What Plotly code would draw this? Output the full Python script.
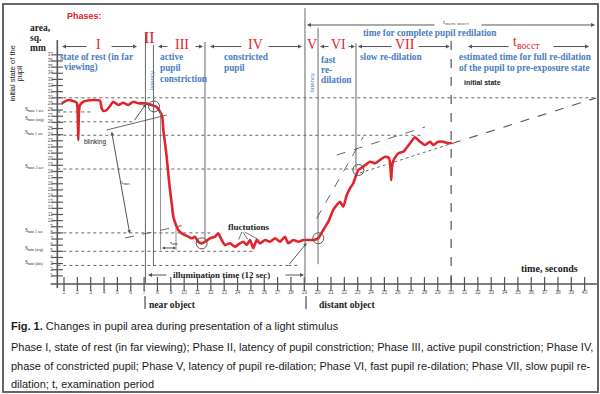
import plotly.graph_objects as go

# ---------------- data ----------------
time_s = [0.83, 1.32, 1.82, 1.97, 2.03, 2.07, 2.11, 2.18, 2.45, 2.80,
          3.19, 3.70, 3.82, 3.94, 4.20, 4.45, 4.69, 5.07, 5.44, 5.82,
          6.19, 6.57, 7.07, 7.57, 7.94, 8.19, 8.36, 8.44, 8.57, 8.69,
          8.81, 8.94, 9.07, 9.19, 9.39, 9.56, 9.82, 10.06, 10.31, 10.57,
          10.81, 11.06, 11.31, 11.56, 11.94, 12.31, 12.56, 12.81, 13.06, 13.43,
          13.81, 14.18, 14.43, 14.69, 14.93, 15.18, 15.43, 15.68, 16.06, 16.43,
          16.81, 17.18, 17.55, 17.80, 18.18, 18.55, 18.93, 19.30, 19.67, 20.05,
          20.42, 20.80, 21.17, 21.43, 21.67, 21.92, 22.18, 22.42, 22.67, 22.93,
          23.05, 23.42, 23.92, 24.30, 24.67, 25.05, 25.34, 25.45, 25.51, 25.57,
          25.70, 26.04, 26.42, 26.54, 26.92, 27.29, 27.67, 28.04, 28.42, 28.66,
          29.04, 29.41, 29.79, 30.05]
area_mm2 = [29.10, 29.64, 29.37, 29.15, 27.0, 23.1, 27.0, 28.7, 29.37, 29.56,
            29.64, 29.53, 28.29, 27.85, 28.01, 28.67, 29.37, 28.83, 29.20, 28.83,
            29.37, 29.10, 29.10, 28.83, 28.50, 27.74, 26.92, 24.76, 22.59, 20.41,
            17.70, 14.98, 12.82, 10.64, 9.28, 8.47, 7.93, 7.65, 7.38, 7.12,
            7.38, 6.56, 6.30, 6.56, 7.12, 7.38, 7.93, 6.84, 6.03, 6.30,
            5.75, 6.30, 6.56, 6.03, 6.84, 5.49, 6.84, 6.30, 6.84, 6.56,
            7.12, 6.56, 7.38, 6.30, 6.84, 6.56, 6.84, 6.84, 6.84, 7.12,
            8.47, 9.82, 11.73, 12.54, 13.08, 12.26, 14.17, 15.26, 16.08, 17.70,
            18.24, 18.78, 19.59, 19.33, 19.87, 20.41, 20.20, 18.8, 16.6, 18.8,
            19.9, 20.96, 21.22, 21.50, 22.59, 23.57, 22.85, 22.31, 22.85, 22.31,
            22.85, 22.85, 22.59, 22.69]

x_ticks = list(range(1, 41))
y_ticks = list(range(1, 38))

# marked points (open circles) on the curve
circle_t = [7.74, 11.31, 20.05, 23.05]
circle_area = [28.6, 6.30, 7.12, 18.24]

# reference levels (area) with labels and the time where each dotted line ends
level_area = [30.0, 27.7, 26.1, 23.9, 18.4, 8.0, 5.0, 2.7]
level_end_t = [41.0, 3.0, 6.2, 27.8, 23.0, 12.2, 15.2, 17.8]
level_label = ["", "S<sub>max 1 sec</sub>", "S<sub>max (avg)</sub>", "S<sub>min 1 sec</sub>",
               "S<sub>max 2 sec</sub>", "S<sub>min 1 sec</sub>", "S<sub>min (avg)</sub>",
               "S<sub>min (abs)</sub>"]

# phase boundaries (time) and the vertical extent of each boundary line
bound_t = [7.10, 7.70, 11.56, 19.05, 20.03, 22.87]
bound_top = [40.55, 38.6, 39.1, 44.6, 41.4, 38.9]
bound_bottom = [-0.33, 2.6, 6.84, -0.33, 2.9, 18.2]
end_t = 30.0

phase_names = ["I", "II", "III", "IV", "V", "VI", "VII"]
phase_center_t = [3.55, 7.44, 9.84, 15.31, 19.55, 21.56, 26.54]

# ---------------- style ----------------
SERIF = "Liberation Serif"
SANS = "Liberation Sans"
RED = "#e3232b"
BLUE = "#4a7dbf"
GRAY = "#555555"
DARK = "#222222"

fig = go.Figure()

# red pupil-area curve
fig.add_trace(go.Scatter(x=time_s, y=area_mm2, mode="lines",
                         line=dict(color=RED, width=2.6, shape="spline", smoothing=0.5),
                         hoverinfo="skip", showlegend=False))

# circles
fig.add_trace(go.Scatter(x=circle_t, y=circle_area, mode="markers",
                         marker=dict(symbol="circle-open", size=11, color=GRAY, line=dict(width=1)),
                         hoverinfo="skip", showlegend=False))

# axis ticks (crossing) and tick labels
X_AXIS_Y = -0.33
Y_AXIS_T = 0.5
fig.add_trace(go.Scatter(x=x_ticks, y=[X_AXIS_Y] * len(x_ticks), mode="markers",
                         marker=dict(symbol="line-ns", size=10, line=dict(width=1.2, color=GRAY)),
                         hoverinfo="skip", showlegend=False))
fig.add_trace(go.Scatter(x=x_ticks, y=[-1.75] * len(x_ticks), mode="text",
                         text=[str(v) for v in x_ticks],
                         textfont=dict(size=5, color=GRAY, family=SANS),
                         hoverinfo="skip", showlegend=False))
fig.add_trace(go.Scatter(x=[Y_AXIS_T] * len(y_ticks), y=y_ticks, mode="markers",
                         marker=dict(symbol="line-ew", size=8, line=dict(width=1.2, color=GRAY)),
                         hoverinfo="skip", showlegend=False))
fig.add_trace(go.Scatter(x=[0.15] * len(y_ticks), y=y_ticks, mode="text",
                         text=[str(v) for v in y_ticks], textposition="middle left",
                         textfont=dict(size=4.5, color=GRAY, family=SANS),
                         hoverinfo="skip", showlegend=False))

shapes = []
ann = []


def seg(x0, y0, x1, y1, color=GRAY, width=1, dash="solid"):
    shapes.append(dict(type="line", xref="x", yref="y", x0=x0, y0=y0, x1=x1, y1=y1,
                       line=dict(color=color, width=width, dash=dash)))


def txt(x, y, s, size, color=DARK, bold=False, family=SERIF, anchor="left", angle=0):
    if bold:
        s = "<b>" + s + "</b>"
    ann.append(dict(x=x, y=y, xref="x", yref="y", text=s, showarrow=False,
                    font=dict(size=size, color=color, family=family),
                    xanchor=anchor, yanchor="middle", textangle=angle))


def arrow(xh, yh, xt, yt, both=False, color=GRAY, width=1, size=0.8):
    d = dict(x=xh, y=yh, ax=xt, ay=yt, xref="x", yref="y", axref="x", ayref="y",
             showarrow=True, arrowhead=2, arrowsize=size, arrowwidth=width,
             arrowcolor=color, text="", standoff=0, startstandoff=0)
    if both:
        d.update(arrowside="end+start", startarrowhead=2, startarrowsize=size)
    ann.append(d)


# axes lines
seg(0.0, X_AXIS_Y, 41.0, X_AXIS_Y, GRAY, 1.6)
seg(Y_AXIS_T, -1.0, Y_AXIS_T, 39.4, GRAY, 1.6)

# horizontal reference levels
for a, te, lab in zip(level_area, level_end_t, level_label):
    seg(Y_AXIS_T, a, te, a, "#666666", 1, "dot")
    if lab:
        txt(-2.05, a + 0.45, lab, 5.5, DARK, family=SERIF)

# phase boundaries
for t, top, bot in zip(bound_t, bound_top, bound_bottom):
    seg(t, bot, t, top, "#666666", 1)
seg(end_t, -0.33, end_t, 39.4, "#555555", 1.2, "dash")

# t_min bracket
seg(8.23, 28.0, 8.23, 5.2, "#777777", 0.8)
seg(9.39, 9.1, 9.39, 5.2, "#777777", 0.8)
arrow(9.39, 5.54, 8.23, 5.54, both=True, size=0.6)
txt(8.8, 6.4, "τ<sub>min</sub>", 5)

# tangents / guide lines
seg(4.20, 24.76, 8.69, 27.19, "#555555", 0.9)
seg(5.57, 7.17, 9.82, 9.17, "#555555", 0.9, "dash")
arrow(4.57, 24.48, 5.94, 7.65, both=True, size=0.7)
txt(5.05, 16.1, "A<sub>max</sub>", 5)
arrow(7.14, 29.0, 6.2, 26.1, size=0.7)
seg(19.93, 10.37, 23.42, 23.66, "#555555", 0.9, "dash")
seg(21.43, 20.68, 28.04, 25.24, "#555555", 0.9, "dash")
seg(23.17, 17.75, 30.06, 22.56, "#555555", 0.9, "dot")
seg(30.06, 22.56, 40.85, 29.97, "#555555", 1.1, "dash")
seg(17.8, 2.7, 18.7, 2.7, "#666666", 1, "dot")
arrow(19.18, 6.35, 17.8, 2.7, size=0.7)

# fluctuation pointers
seg(14.31, 8.14, 14.09, 6.9, "#555555", 0.8)
seg(14.39, 8.14, 14.76, 7.0, "#555555", 0.8)
seg(14.54, 8.14, 15.58, 6.9, "#555555", 0.8)

# near / distant object markers
seg(7.07, -2.3, 7.07, -4.4, DARK, 1)
seg(19.13, -2.3, 19.13, -4.4, DARK, 1)

# ---------------- phase header ----------------
PH_Y = 38.35
for name, t in zip(phase_names, phase_center_t):
    y = 39.8 if name == "II" else 38.75
    size = 16 if name == "II" else 14
    txt(t, y, name, size, RED, family=SERIF, anchor="center")
txt(35.68, 39.0, "t<sub>восст</sub>", 14, RED, family=SERIF, anchor="center")

phase_arrows = [(0.85, 2.80), (6.47, 4.45), (8.04, 8.87), (11.41, 10.74),
                (11.94, 14.41), (18.83, 16.21), (20.18, 20.93), (22.80, 22.20),
                (23.02, 25.64), (29.91, 27.44), (31.26, 34.41), (40.33, 37.55)]
for head, tail in phase_arrows:
    arrow(head, PH_Y, tail, PH_Y, size=0.8)

# overall redilation arrow
arrow(19.20, 41.86, 28.87, 41.86, size=0.8)
arrow(40.78, 41.86, 32.16, 41.86, size=0.8)
txt(30.4, 42.4, "t<sub>полн. восст</sub>", 7, GRAY, family=SERIF, anchor="center")

txt(1.04, 43.3, "Phases:", 9, RED, bold=True, family=SANS)
txt(-1.70, 41.37, "area,", 9.5, DARK, bold=True)
txt(-1.70, 39.74, "sq.", 9.5, DARK, bold=True)
txt(-1.70, 38.11, "mm", 9.5, DARK, bold=True)
txt(-2.85, 33.9, "initial state of the", 7.5, DARK, family=SANS, anchor="center", angle=-90)
txt(-2.32, 33.9, "pupil", 7.5, DARK, family=SANS, anchor="center", angle=-90)

# blue descriptive texts
B = 9.3
txt(0.55, 36.64, "state of rest (in far", B, BLUE, bold=True)
txt(0.85, 35.0, "viewing)", B, BLUE, bold=True)
txt(8.04, 36.64, "active", B, BLUE, bold=True)
txt(8.04, 34.85, "pupil", B, BLUE, bold=True)
txt(8.04, 33.06, "constriction", B, BLUE, bold=True)
txt(12.84, 36.64, "constricted", B, BLUE, bold=True)
txt(12.84, 34.85, "pupil", B, BLUE, bold=True)
txt(20.10, 36.16, "fast", B, BLUE, bold=True)
txt(20.10, 34.53, "re-", B, BLUE, bold=True)
txt(20.10, 32.90, "dilation", B, BLUE, bold=True)
txt(23.02, 36.7, "slow re-dilation", B, BLUE, bold=True)
txt(28.42, 40.6, "time for complete pupil redilation", B, BLUE, bold=True, anchor="center")
txt(30.44, 36.64, "estimated time for full re-dilation", B, BLUE, bold=True)
txt(30.44, 34.85, "of the pupil to pre-exposure state", B, BLUE, bold=True)
txt(7.59, 32.9, "latency", 6, BLUE, family=SANS, anchor="center", angle=-90)
txt(19.58, 32.4, "latency", 6, BLUE, family=SANS, anchor="center", angle=-90)

# black labels
txt(30.81, 32.57, "initial state", 7, DARK, bold=True, family=SANS)
txt(2.35, 22.8, "blinking", 6.5, DARK, family=SANS)
txt(13.13, 8.96, "fluctutions", 9, DARK, bold=True)
txt(9.05, 1.14, "illumination time (12 sec)", 9, DARK, bold=True)
arrow(7.29, 1.14, 8.79, 1.14, size=0.8)
arrow(18.98, 1.14, 17.48, 1.14, size=0.8)
txt(35.08, 2.28, "time, seconds", 10, DARK, bold=True)
txt(7.25, -3.68, "near object", 9.6, DARK, bold=True)
txt(19.95, -3.68, "distant object", 9.6, DARK, bold=True)

# ---------------- caption ----------------
CAP = 11
cap_lines = [
    (326, "<b>Fig. 1.</b> Changes in pupil area during presentation of a light stimulus"),
    (347, "Phase I, state of rest (in far viewing); Phase II, latency of pupil constriction; Phase III, active pupil constriction; Phase IV,"),
    (366, "phase of constricted pupil; Phase V, latency of pupil re-dilation; Phase VI, fast pupil re-dilation; Phase VII, slow pupil re-"),
    (384, "dilation; t, examination period"),
]
for py, s in cap_lines:
    ann.append(dict(x=9 / 600, y=1 - py / 394, xref="paper", yref="paper", text=s,
                    showarrow=False, xanchor="left", yanchor="middle",
                    font=dict(size=CAP, color="#1a1a1a", family=SANS)))

# outer frame
shapes.append(dict(type="rect", xref="paper", yref="paper", x0=3 / 600, x1=598 / 600,
                   y0=1 - 392 / 394, y1=1 - 4 / 394, line=dict(color="#666666", width=2)))

fig.update_layout(
    width=600, height=394, margin=dict(l=0, r=0, t=0, b=0),
    paper_bgcolor="white", plot_bgcolor="white",
    xaxis=dict(range=[-3.794, 41.150], visible=False, fixedrange=True),
    yaxis=dict(range=[-18.24, 45.93], visible=False, fixedrange=True),
    shapes=shapes, annotations=ann, showlegend=False,
)

fig.write_html("out.html", config={"displayModeBar": False},
               post_script="document.body.style.margin='0';document.body.style.overflow='hidden';")
